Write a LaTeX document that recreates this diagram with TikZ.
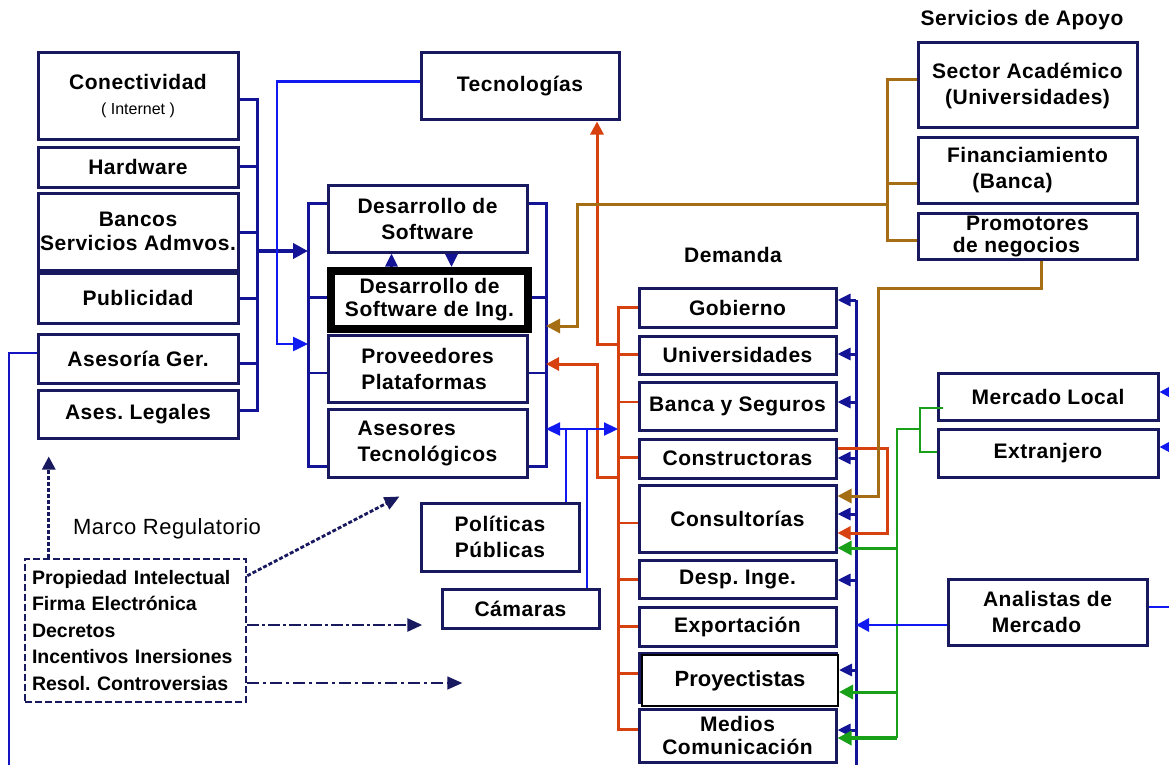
\documentclass[tikz,border=0pt]{standalone}
\usepackage{fontspec}
\setmainfont{Liberation Sans}[LetterSpace=2.5]
\newfontfamily\plainsans{Liberation Sans}
\usetikzlibrary{arrows.meta,calc}
\definecolor{navy}{RGB}{25,25,95}
\definecolor{busc}{RGB}{20,20,150}
\definecolor{lbus}{RGB}{20,20,195}
\definecolor{bblue}{RGB}{15,25,240}
\definecolor{rred}{RGB}{215,65,15}
\definecolor{brn}{RGB}{165,110,20}
\definecolor{grn}{RGB}{25,160,25}
\newcommand{\bxf}{\fontsize{21}{26}\selectfont\bfseries}
\begin{document}
\frenchspacing
\begin{tikzpicture}[x=1pt,y=-1pt,
 box/.style={draw=navy,line width=3pt,fill=white,inner sep=0pt,align=center,font=\bxf},
 ttl/.style={font=\bxf,inner sep=0pt},
 tip/.style={-{Triangle[length=13pt,width=12pt]}},
 nbus/.style={draw=busc,line width=3pt},
 narr/.style={nbus,tip},
 rline/.style={draw=rred,line width=3pt},
 rarr/.style={rline,-{Triangle[length=13pt,width=13pt]}},
 bline/.style={draw=brn,line width=3pt},
 barr/.style={bline,-{Triangle[length=14pt,width=14pt]}},
 gline/.style={draw=grn,line width=2.2pt},
 garr/.style={draw=grn,line width=3pt,-{Triangle[length=14pt,width=14pt]}},
 bl/.style={draw=bblue,line width=2.8pt},
 bbarr/.style={bl,-{Triangle[length=13pt,width=13pt]}},
 mdash/.style={draw=navy,line width=2.8pt}
]
\fill[white] (0,0) rectangle (1169,765);
\useasboundingbox (0,0) rectangle (1169,765);

% ---------- left column
\node[box,minimum width=200pt,minimum height=86pt] (conect) at (138,96) {Conectividad\\[-1pt]{\plainsans\mdseries\fontsize{16}{20}\selectfont ( Internet )}};
\node[box,minimum width=200pt,minimum height=40pt] (hardw) at (138,167) {Hardware};
\node[box,minimum width=200pt,minimum height=77pt] (bancos) at (138,231.5) {Bancos\\[-2pt]Servicios Admvos.};
\node[box,minimum width=200pt,minimum height=50pt] (publi) at (138,298) {Publicidad};
\node[box,minimum width=200pt,minimum height=49pt] (asesger) at (138,358.5) {Asesoría Ger.};
\node[box,minimum width=200pt,minimum height=48pt] (legales) at (138,414) {Ases. Legales};

% ---------- middle column
\node[box,minimum width=198pt,minimum height=67pt] (tecno) at (520,86.5) {Tecnologías};
\node[box,minimum width=199pt,minimum height=67pt] (dsw) at (427.5,218.5) {Desarrollo de\\Software};
\node[box,draw=black,line width=8pt,minimum width=197pt,minimum height=57.5pt,font=\fontsize{21}{23}\selectfont\bfseries] (dswi) at (429.5,299.75) {Desarrollo de\\Software de Ing.};
\node[box,minimum width=199pt,minimum height=67pt,align=left] (prov) at (427.5,368.5) {Proveedores\\Plataformas};
\node[box,minimum width=199pt,minimum height=68pt,align=left] (asetec) at (427.5,443) {Asesores\\Tecnológicos};
\node[box,minimum width=158pt,minimum height=68pt] (politicas) at (500,537) {Políticas\\Públicas};
\node[box,minimum width=157pt,minimum height=39pt] (camaras) at (520.5,608.5) {Cámaras};

% ---------- demanda
\node[ttl] (demt) at (733,255) {Demanda};
\node[box,minimum width=197pt,minimum height=39pt] (gob) at (737.5,307.5) {Gobierno};
\node[box,minimum width=197pt,minimum height=38pt] (univ) at (737.5,355) {Universidades};
\node[box,minimum width=197pt,minimum height=48pt] (banca) at (737.5,406) {Banca y Seguros};
\node[box,minimum width=197pt,minimum height=39pt] (constr) at (737.5,458.5) {Constructoras};
\node[box,minimum width=197pt,minimum height=67pt] (consul) at (737.5,518.5) {Consultorías};
\node[box,minimum width=197pt,minimum height=38pt] (desp) at (737.5,579) {Desp. Inge.};
\node[box,minimum width=197pt,minimum height=39pt] (export) at (737.5,626.5) {Exportación};
\node[box,minimum width=197pt,minimum height=49pt] (proyb) at (737.5,677.5) {};
\node[draw=black,line width=2pt,fill=white,inner sep=0pt,minimum width=196pt,minimum height=51pt,font=\plainsans\bfseries\fontsize{22}{26}\selectfont] (proy) at (740,680.5) {Proyectistas};
\node[box,minimum width=197pt,minimum height=53pt,font=\fontsize{21}{23}\selectfont\bfseries] (medios) at (737.5,735.5) {Medios\\Comunicación};

% ---------- servicios de apoyo
\node[ttl] (servt) at (1022,20) {Servicios de Apoyo};
\node[box,minimum width=219pt,minimum height=85pt] (sector) at (1027.5,85.5) {Sector Académico\\(Universidades)};
\node[box,minimum width=219pt,minimum height=66pt] (financ) at (1027.5,170) {Financiamiento\\\hspace*{-30pt}(Banca)};
\node[box,minimum width=219pt,minimum height=46pt,font=\fontsize{21}{22}\selectfont\bfseries] (promot) at (1027.5,236) {Promotores\\\hspace*{-22pt}de negocios};

% ---------- mercado
\node[box,minimum width=220pt,minimum height=47pt] (mlocal) at (1048,396.5) {Mercado Local};
\node[box,minimum width=220pt,minimum height=48pt] (extranj) at (1048,453) {Extranjero};
\node[box,minimum width=199pt,minimum height=66pt] (analistas) at (1047.5,612) {Analistas de\\\hspace*{-22pt}Mercado};

% ---------- marco regulatorio
\node[inner sep=0pt,font=\fontsize{22}{24}\selectfont] (mtitle) at (167,529) {Marco Regulatorio};
\node[draw=navy,line width=2.5pt,dash pattern=on 7pt off 3pt,minimum width=221pt,minimum height=143pt,text width=207pt,align=left,inner sep=0pt,font=\plainsans\bfseries\fontsize{19.5}{26.5}\selectfont] (marco) at (135.5,630.5) {Propiedad Intelectual\\Firma Electrónica\\Decretos\\Incentivos Inersiones\\Resol. Controversias};

% ================= connectors
% input bus
\coordinate (ibus) at (257,100);
\coordinate (ibusb) at (257,410);
\draw[nbus] ($(conect.east)+(0,4)$) -- (ibus) -- (ibusb) -- ($(legales.east)+(0,-4)$);
\foreach \n/\d in {hardw/-1,bancos/0.5,publi/0,asesger/4.5}{\draw[nbus] ($(\n.east)+(0,\d)$) -- ++(18,0);}
\coordinate (gLt) at (308,203);
\coordinate (gLb) at (308,466);
\coordinate (ta) at (257,251);
\draw[nbus,line width=4.5pt,-{Triangle[length=15pt,width=15pt]}] (ta) -- (ta -| gLt);

% from Tecnologias
\coordinate (tc) at (277,344);
\draw[bl,line width=2.5pt,-{Triangle[length=15pt,width=14pt]}] ($(tecno.west)+(0,-5)$) -| (tc) -- (tc -| gLt);

% group buses
\draw[nbus] (gLt -| dsw.west) -- (gLt) -- (gLb) -- (gLb -| asetec.west);
\draw[nbus] ($(dswi.west)+(0,-2)$) -- ++(-19,0);
\draw[nbus,line width=1.5pt] ($(prov.west)+(0,4.5)$) -- ++(-20,0);
\coordinate (gRt) at (546,203);
\coordinate (gRb) at (546,466);
\draw[nbus] (gRt -| dsw.east) -- (gRt) -- (gRb) -- (gRb -| asetec.east);
\draw[nbus] ($(dswi.east)+(0,-2)$) -- ++(14,0);
\draw[nbus,line width=1.5pt] ($(prov.east)+(0,4.5)$) -- ++(18,0);

% between the two Desarrollo boxes
\coordinate (u1) at ($(dsw.south west)+(65,0)$);
\coordinate (u2) at ($(dsw.south west)+(125,0)$);
\draw[narr] (u1 |- dswi.north) -- (u1);
\draw[narr] (u2) -- (u2 |- dswi.north);

% red
\coordinate (rT) at (618,307.5);
\coordinate (rB) at (618,729);
\draw[rline] (gob.west) -- (rT) -- (rB) -- (rB -| medios.west);
\foreach \n/\d in {univ/-1,constr/-1.5,desp/0,export/-0.5,proyb/-4.5}{\draw[rline] ($(\n.west)+(0,\d)$) -- ++(-20,0);}
\foreach \n/\d in {banca/-4,consul/4.5}{\draw[rline,line width=1.5pt] ($(\n.west)+(0,\d)$) -- ++(-20,0);}
\coordinate (r1) at (597,344);
\draw[rarr] (r1 -| rT) -- (r1) -- (r1 |- tecno.south);
\coordinate (r2) at (597,477);
\coordinate (r3) at (597,364);
\draw[rarr] (r2 -| rT) -- (r2) -- (r3) -- (r3 -| gRt);

% navy demand bus
\coordinate (nT) at (856,300);
\coordinate (nBot) at (856,765);
\draw[nbus] (nT) -- (nBot);
\foreach \n/\y in {gob/300,univ/354,banca/402,constr/458,consul/514,desp/580,proy/670,medios/730}{\coordinate (tmp) at (856,\y); \draw[narr] (tmp) -- (tmp -| \n.east);}

% red constructoras -> consultorias
\coordinate (r4) at (887,448);
\coordinate (r5) at (887,533);
\draw[rarr] (r4 -| constr.east) -- (r4) -- (r5) -- (r5 -| consul.east);

% brown
\coordinate (bT) at (887,80);
\coordinate (bB) at (887,240);
\draw[bline] (bT -| sector.west) -- (bT) -- (bB) -- (bB -| promot.west);
\draw[bline] ($(financ.west)+(0,13)$) -- ++(-31,0);
\coordinate (b1) at (887,204);
\coordinate (b2) at (577,204);
\coordinate (b3) at (577,326);
\draw[barr] (b1) -- (b2) -- (b3) -- (b3 -| gRt);
\coordinate (b5) at (878,288);
\coordinate (b4) at (878,496);
\draw[barr] ($(promot.south west)+(125,0)$) |- (b5) -- (b4) -- (b4 -| consul.east);

% green
\coordinate (gT) at (897,429);
\coordinate (gB) at (897,738);
\coordinate (g1) at (920,408);
\coordinate (g2) at (920,452);
\draw[gline] (gB) -- (gT) -- (gT -| g1);
\draw[gline] ($(g1)+(23,0)$) -- (g1) -- (g2) -- (g2 -| extranj.west);
\coordinate (gy1) at (897,548);
\coordinate (gy2) at (897,692);
\draw[garr] (gy1) -- (gy1 -| consul.east);
\draw[garr] (gy2) -- (gy2 -| proy.east);
\draw[garr,line width=4.5pt] (gB) -- (gB -| medios.east);

% analistas and mercados
\coordinate (a1) at (856,625);
\draw[bbarr] ($(analistas.west)+(0,13)$) -- (a1);
\draw[bl] ($(analistas.east)+(0,-5)$) -- ++(25,0);
\coordinate (e1) at (1169,392);
\coordinate (e2) at (1169,447);
\draw[bbarr] (e1) -- (e1 -| mlocal.east);
\draw[bbarr] (e2) -- (e2 -| extranj.east);

% politicas / camaras
\coordinate (pL) at (546,429);
\coordinate (pR) at (618,429);
\draw[bl,line width=2.2pt,{Triangle[length=14pt,width=13pt]}-{Triangle[length=14pt,width=13pt]}] (pL) -- (pR);
\coordinate (p1) at (566,429);
\coordinate (p2) at (587,429);
\draw[bl] (p1) -- (p1 |- politicas.north);
\draw[bl] (p2) -- (p2 |- camaras.north);

% long left line
\coordinate (ll) at (9,765);
\draw[draw=lbus,line width=2.8pt] ($(asesger.west)+(0,-5.5)$) -| (ll);

% marco arrows
\coordinate (m1) at ($(marco.north west)+(25,0)$);
\draw[mdash,dash pattern=on 4pt off 2pt,shorten >=17pt,-{Triangle[length=13pt,width=13pt]}] (m1) -- (m1 |- legales.south);
\draw[mdash,dash pattern=on 4pt off 2pt,-{Triangle[length=15pt,width=13pt]}] ($(marco.north east)+(0,18)$) -- ($(asetec.south west)+(73,18)$);
\draw[mdash,dash pattern=on 12pt off 3pt on 3pt off 3pt,-{Triangle[length=15pt,width=13pt]}] ($(marco.east)+(0,-5.5)$) -- ++(175,0);
\draw[mdash,line width=1.6pt,dash pattern=on 12pt off 4pt on 3pt off 4pt,-{Triangle[length=15pt,width=13pt]}] ($(marco.east)+(0,52.5)$) -- ++(215,0);
\end{tikzpicture}
\end{document}
